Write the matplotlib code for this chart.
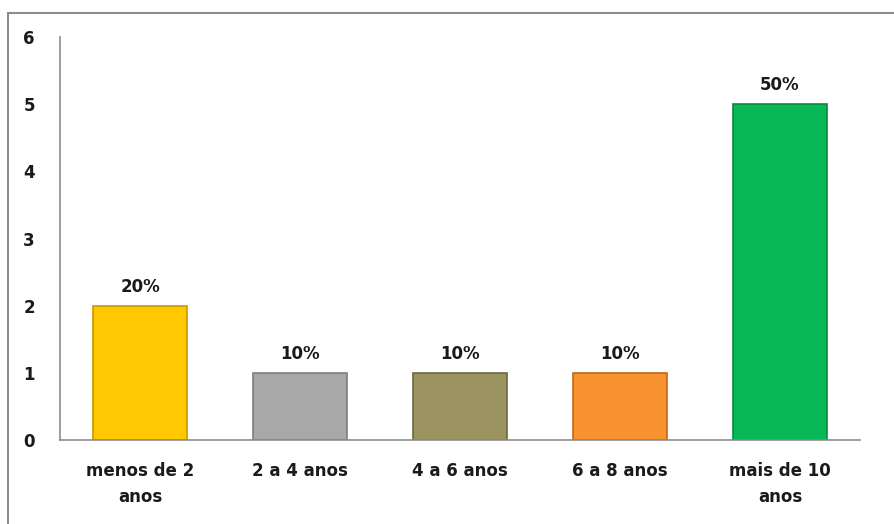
import matplotlib.pyplot as plt
from matplotlib.patches import Rectangle

categorias = ['menos de 2\nanos', '2 a 4 anos', '4 a 6 anos', '6 a 8 anos', 'mais de 10\nanos']
valores = [2, 1, 1, 1, 5]
percentuais = ['20%', '10%', '10%', '10%', '50%']
cores = ['#FFC800', '#A8A8A8', '#9C9460', '#F8922E', '#08B856']
bordas = ['#C89A00', '#7E7E7E', '#6E683E', '#C0661A', '#068A40']

fig = plt.figure(figsize=(8.95, 5.24), dpi=100)
# moldura externa
fig.patches.append(Rectangle((8 / 895, -0.1), 1.2, (524 - 13) / 524 + 0.1,
                             transform=fig.transFigure, fill=False,
                             edgecolor='#8C8C8C', linewidth=1.5))

ax = fig.add_axes([60 / 895, 84 / 524, 800 / 895, 403 / 524])
x = range(len(categorias))
barras = ax.bar(x, valores, width=0.59, color=cores, edgecolor=bordas, linewidth=1.2)

for b, p in zip(barras, percentuais):
    ax.text(b.get_x() + b.get_width() / 2, b.get_height() + 0.15, p,
            ha='center', va='bottom', fontsize=12, fontweight='bold', color='#1A1A1A')

ax.set_xlim(-0.5, 4.5)
ax.set_ylim(0, 6)
ax.set_yticks(range(7))
ax.set_xticks(list(x))
ax.set_xticklabels(categorias, fontsize=12, fontweight='bold', color='#1A1A1A',
                   linespacing=1.55)
for t in ax.get_yticklabels():
    t.set_fontsize(12)
    t.set_fontweight('bold')
    t.set_color('#1A1A1A')
ax.tick_params(axis='both', length=0)
ax.tick_params(axis='x', pad=16)
ax.tick_params(axis='y', pad=18)
ax.spines['top'].set_visible(False)
ax.spines['right'].set_visible(False)
ax.spines['left'].set_color('#8C8C8C')
ax.spines['bottom'].set_color('#8C8C8C')
ax.spines['left'].set_linewidth(1.2)
ax.spines['bottom'].set_linewidth(1.2)

fig.savefig('out.png', dpi=100)
